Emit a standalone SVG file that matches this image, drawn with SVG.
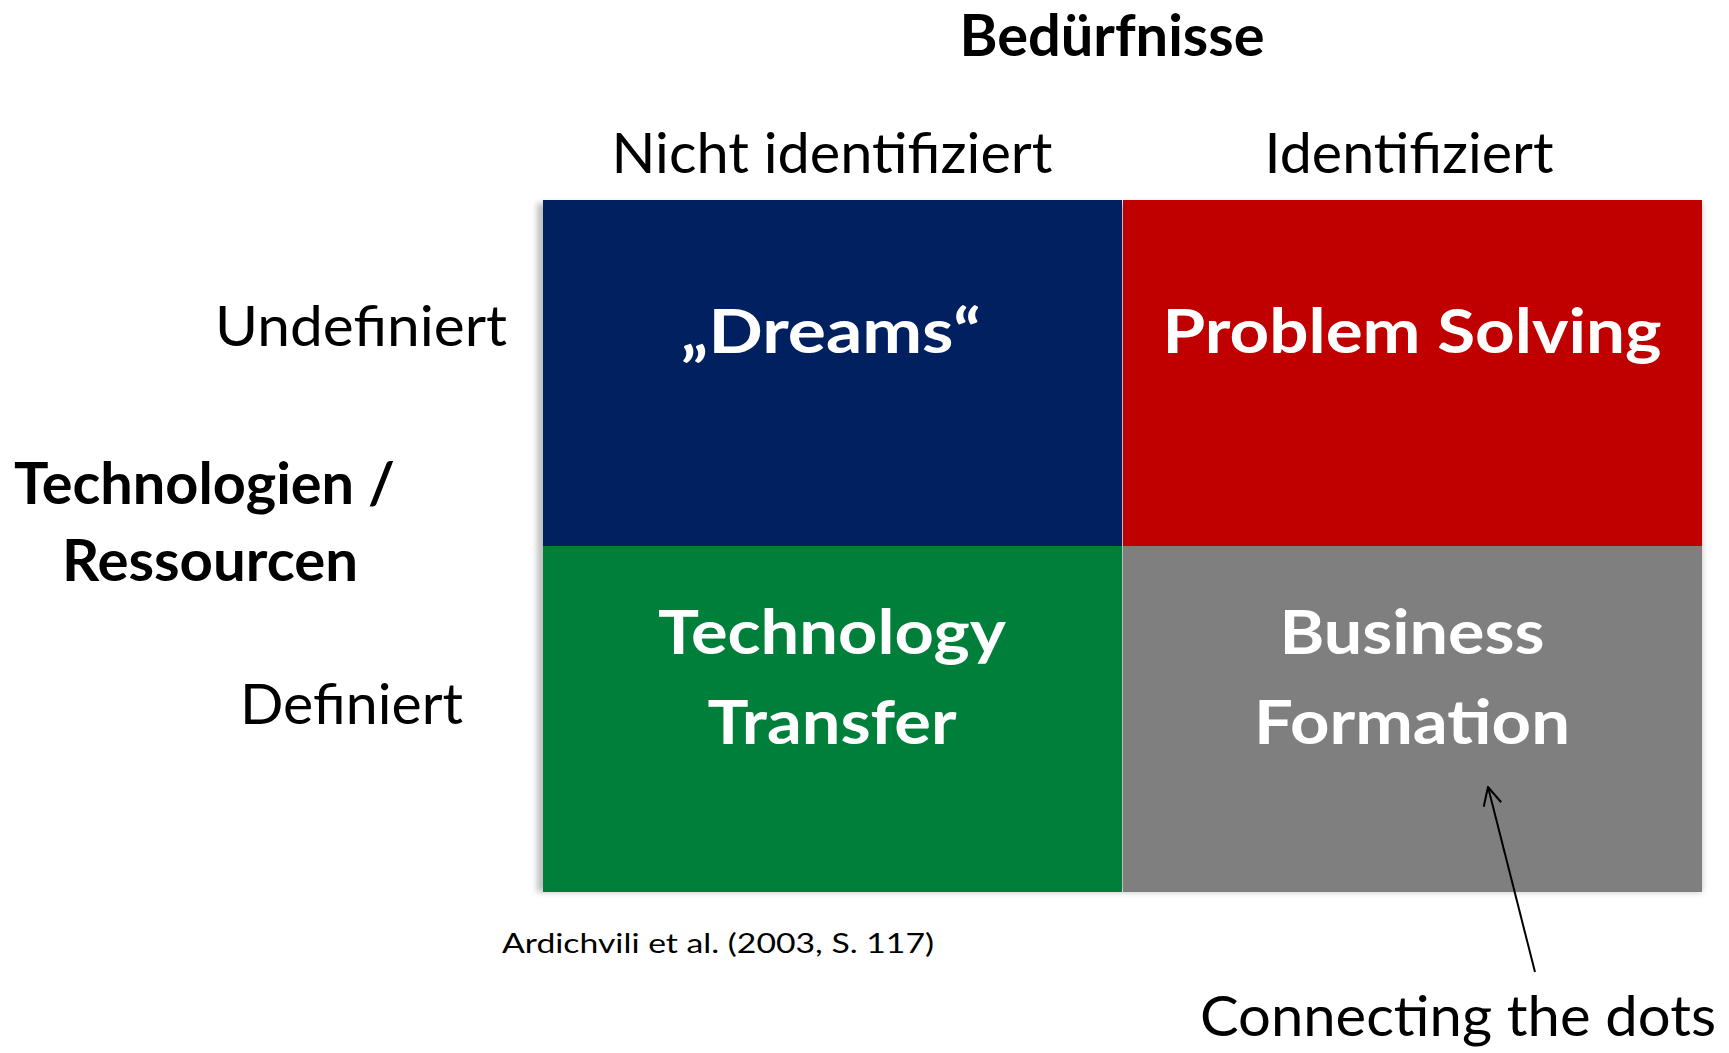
<svg xmlns="http://www.w3.org/2000/svg" width="1729" height="1053" viewBox="0 0 1729 1053">
<style>
  text { font-family: Lato, "Open Sans", "Liberation Sans", sans-serif; }
  .lbl { font-size: 57px; fill: #000; }
  .hdr { font-size: 58px; font-weight: bold; fill: #000; }
  .cell { font-size: 62px; font-weight: bold; fill: #fff; text-anchor: middle; }
  .src { font-size: 26px; fill: #000; }
</style>
<defs>
  <filter id="shadow" x="-5%" y="-5%" width="110%" height="110%">
    <feGaussianBlur stdDeviation="3"/>
  </filter>
  <marker id="openArrow" markerWidth="20" markerHeight="20" refX="19" refY="10" orient="auto" markerUnits="userSpaceOnUse">
    <path d="M 1 1 L 19 10 L 1 19" fill="none" stroke="#000" stroke-width="2"/>
  </marker>
</defs>
<rect width="1729" height="1053" fill="#fff"/>

<g id="headers">
  <text x="1112" y="56" class="hdr" font-size="47" text-anchor="middle" textLength="305" lengthAdjust="spacingAndGlyphs">Bedürfnisse</text>
  <text x="832" y="173" class="lbl" text-anchor="middle" textLength="441" lengthAdjust="spacingAndGlyphs">Nicht identifiziert</text>
  <text x="1409" y="173" class="lbl" text-anchor="middle" textLength="289" lengthAdjust="spacingAndGlyphs">Identifiziert</text>
  <text x="507" y="346" class="lbl" text-anchor="end" textLength="292" lengthAdjust="spacingAndGlyphs">Undefiniert</text>
  <text x="463" y="724" class="lbl" text-anchor="end" textLength="223" lengthAdjust="spacingAndGlyphs">Definiert</text>
  <text x="14" y="504" class="hdr" textLength="381" lengthAdjust="spacingAndGlyphs">Technologien /</text>
  <text x="62" y="581" class="hdr" textLength="296" lengthAdjust="spacingAndGlyphs">Ressourcen</text>
</g>

<rect x="537" y="203" width="1165" height="689" fill="#000" opacity="0.25" filter="url(#shadow)"/>

<g id="dreams">
  <rect x="543" y="200" width="579" height="346" fill="#002060"/>
  <text x="831" y="353" class="cell" textLength="300" lengthAdjust="spacingAndGlyphs">„Dreams“</text>
</g>
<g id="problem-solving">
  <rect x="1123" y="200" width="579" height="346" fill="#C00000"/>
  <text x="1412" y="353" class="cell" textLength="499" lengthAdjust="spacingAndGlyphs">Problem Solving</text>
</g>
<g id="technology-transfer">
  <rect x="543" y="546" width="579" height="346" fill="#007F3A"/>
  <text x="832" y="654" class="cell" textLength="348" lengthAdjust="spacingAndGlyphs">Technology</text>
  <text x="832" y="744" class="cell" textLength="249" lengthAdjust="spacingAndGlyphs">Transfer</text>
</g>
<g id="business-formation">
  <rect x="1123" y="546" width="579" height="346" fill="#7F7F7F"/>
  <text x="1412" y="654" class="cell" textLength="265" lengthAdjust="spacingAndGlyphs">Business</text>
  <text x="1412" y="744" class="cell" textLength="316" lengthAdjust="spacingAndGlyphs">Formation</text>
</g>

<g id="source">
  <text x="502" y="953" class="src" textLength="432" lengthAdjust="spacingAndGlyphs">Ardichvili et al. (2003, S. 117)</text>
</g>

<g id="connecting-the-dots">
  <text x="1716" y="1036" class="lbl" text-anchor="end" textLength="516" lengthAdjust="spacingAndGlyphs">Connecting the dots</text>
</g>

<g id="connectors">
  <line x1="1535" y1="972" x2="1488" y2="787" stroke="#000" stroke-width="2" marker-end="url(#openArrow)"/>
</g>
</svg>
